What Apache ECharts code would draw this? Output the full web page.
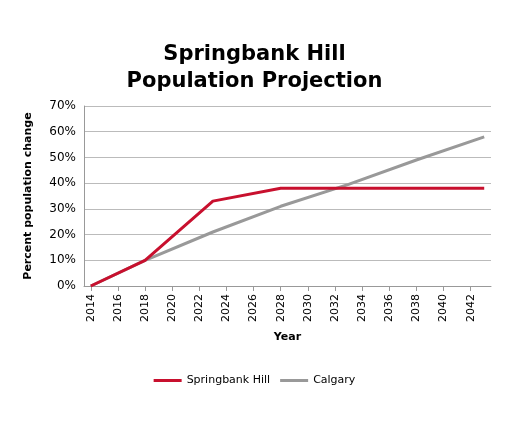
<!DOCTYPE html>
<html><head><meta charset="utf-8">
<script src="https://cdn.jsdelivr.net/npm/echarts@6/dist/echarts.min.js"></script>
<style>html,body{margin:0;padding:0;background:#fff}#c{width:509px;height:425px}</style>
</head><body><div id="c"></div>
<script>
// data
const yearTicks = [2014,2016,2018,2020,2022,2024,2026,2028,2030,2032,2034,2036,2038,2040,2042];
const springbank = [[2014,0],[2018,10],[2023,33],[2028,38],[2043,38]];
const calgary = [[2014,0],[2018,10],[2023,21],[2028,31],[2033,39.5],[2038,49],[2043,58]];

const chart = echarts.init(document.getElementById('c'));
chart.setOption({
  animation:false,
  textStyle:{fontFamily:'DejaVu Sans'},
  title:{text:'Springbank Hill\nPopulation Projection',left:'center',top:36,
    textStyle:{fontSize:21,fontWeight:'bold',color:'#000',lineHeight:27,fontFamily:'DejaVu Sans'}},
  legend:{bottom:34,left:'center',itemWidth:28,itemHeight:3,icon:'rect',itemGap:10,
    textStyle:{fontSize:11,color:'#000'},data:['Springbank Hill','Calgary']},
  grid:{left:84,right:18,top:106,bottom:139},
  xAxis:{type:'value',min:2013.5,max:2043.5,name:'Year',nameLocation:'middle',nameGap:46,
    nameTextStyle:{fontWeight:'bold',fontSize:11,color:'#000'},
    axisLine:{lineStyle:{color:'#999'}},splitLine:{show:false},
    axisTick:{show:true,customValues:yearTicks,lineStyle:{color:'#999'}},
    axisLabel:{customValues:yearTicks,rotate:90,fontSize:11,color:'#000',formatter:v=>String(v)}},
  yAxis:{type:'value',min:0,max:70,interval:10,name:'Percent population change',
    nameLocation:'middle',nameGap:50,nameTextStyle:{fontWeight:'bold',fontSize:11,color:'#000'},
    axisLine:{show:true,lineStyle:{color:'#999'}},axisTick:{show:false},
    axisLabel:{formatter:'{value}%',fontSize:12,color:'#000'},
    splitLine:{lineStyle:{color:'#bbb'}}},
  series:[
    {name:'Calgary',type:'line',data:calgary,symbol:'none',lineStyle:{width:3,color:'#999'},itemStyle:{color:'#999'}},
    {name:'Springbank Hill',type:'line',data:springbank,symbol:'none',lineStyle:{width:3,color:'#c8102e'},itemStyle:{color:'#c8102e'}}
  ]
});
</script></body></html>
